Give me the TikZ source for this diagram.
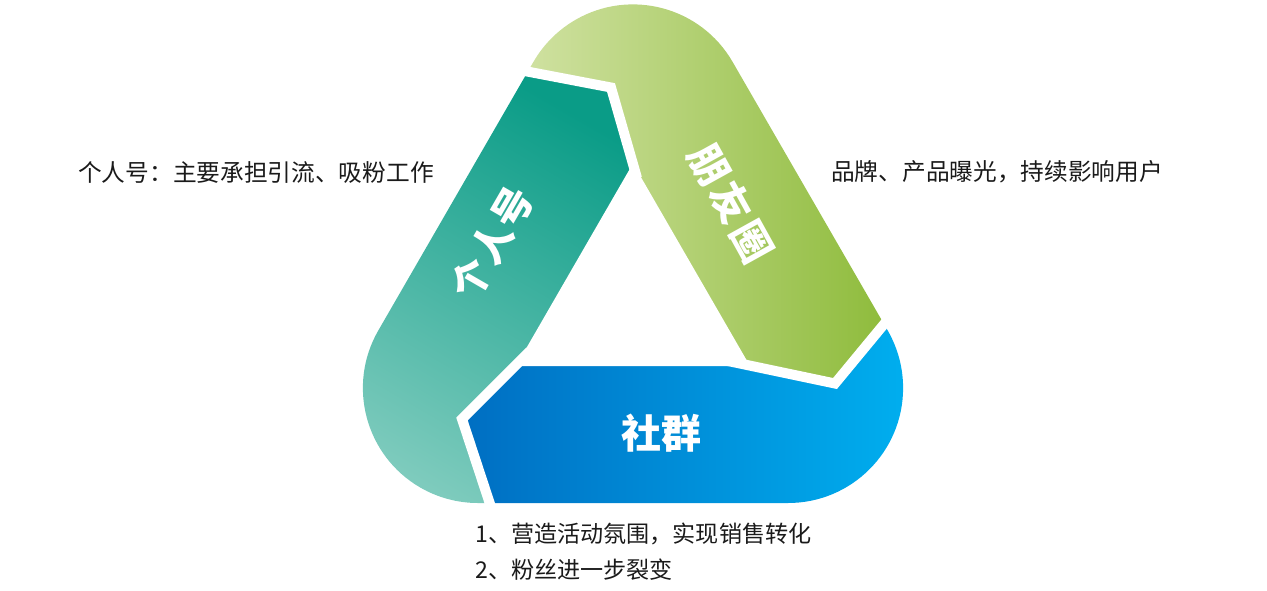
\documentclass[tikz,border=0pt]{standalone}
\usepackage{fontspec}
\setmainfont{Noto Sans CJK SC}
\definecolor{tealD}{HTML}{0A9C87}
\definecolor{tealL}{HTML}{7ECBBD}
\definecolor{greenL}{HTML}{D8E6AE}
\definecolor{greenD}{HTML}{8AB935}
\definecolor{blueD}{HTML}{006EC2}
\definecolor{blueL}{HTML}{00B0F0}
\definecolor{txt}{HTML}{1A1A1A}
\tikzset{
  gapline/.style={draw=white, line width=10pt, line join=miter},
  bandlabel/.style={text=white, font=\bfseries\fontsize{40}{44}\selectfont, inner sep=0pt},
  sidetext/.style={text=txt, font=\fontsize{23.7}{28}\selectfont, inner sep=0pt, anchor=west},
  bottomtext/.style={text=txt, font=\fontsize{23.1}{28}\selectfont, inner sep=0pt, anchor=west}
}
\begin{document}
\begin{tikzpicture}[x=1pt, y=-1pt]
\useasboundingbox (0,0) rectangle (1267,590);
% outer rounded triangle as clip
\begin{scope}
\clip (732.6,61.9) arc[start angle=-30, end angle=-150, radius=115]
  -- (378.3,330.5) arc[start angle=210, end angle=90, radius=115]
  -- (788.1,503) arc[start angle=90, end angle=-30, radius=115] -- cycle;
% teal band
\shade[top color=tealD, bottom color=tealL, shading angle=-30]
  (634,175) -- (611,87.5) -- (524.5,71) -- (480,62.5) -- (340,300) -- (340,520)
  -- (496,522) -- (490,504) -- (462,419) -- (530,351) -- cycle;
% green band
\shade[left color=greenL, right color=greenD]
  (634,175) -- (611,87.5) -- (524.5,71) -- (480,62.5) -- (520,0) -- (750,0)
  -- (910,290) -- (905,299) -- (885,323) -- (835,383.5) -- (728,361) -- cycle;
% blue band
\shade[left color=blueD, right color=blueL]
  (530,351) -- (462,419) -- (490,504) -- (496,522) -- (920,522) -- (920,299)
  -- (905,299) -- (885,323) -- (835,383.5) -- (728,361) -- cycle;
\end{scope}
% inner white triangle
\fill[white] (633,163.4) -- (516,366) -- (750,366) -- cycle;
% gaps
\coordinate (g1a) at (637,178);
\coordinate (g1b) at (611,87.5);
\coordinate (g1c) at (524.5,71);
\coordinate (g1d) at (470,60.5);
\coordinate (g2a) at (530,351);
\coordinate (g2b) at (462,419);
\coordinate (g2c) at (490,504);
\coordinate (g2d) at (497,526);
\coordinate (g3a) at (728,361);
\coordinate (g3b) at (835,383.5);
\coordinate (g3c) at (885,323);
\coordinate (g3d) at (908,295);
\draw[gapline] (g1a) -- (g1b) -- (g1c) -- (g1d);
\draw[gapline] (g2a) -- (g2b) -- (g2c) -- (g2d);
\draw[gapline] (g3a) -- (g3b) -- (g3c) -- (g3d);
% band labels
\node[bandlabel, rotate=60] (lp) at (492,243) {个\hspace{1.5pt}人\hspace{1.5pt}号};
\node[bandlabel, rotate=-61] (lf) at (731,203) {朋\hspace{4pt}友\hspace{4pt}圈};
\node[bandlabel] (ls) at (661,433) {社群};
% side texts
\node[sidetext] (t1) at (78,172) {个人号：主要承担引流、吸粉工作};
\node[sidetext] (t2) at (831,172) {品牌、产品曝光，持续影响用户};
\node[bottomtext] (t3) at (475,534) {1、营造活动氛围，实现销售转化};
\node[bottomtext] (t4) at (475,570) {2、粉丝进一步裂变};
\end{tikzpicture}
\end{document}
